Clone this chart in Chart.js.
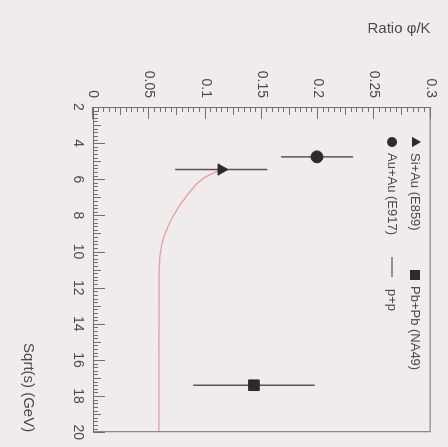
<!DOCTYPE html>
<html>
<head>
<meta charset="utf-8">
<script src="https://cdn.jsdelivr.net/npm/chart.js@4.4.0/dist/chart.umd.min.js"></script>
<style>
  html, body { margin: 0; padding: 0; background: #f0ecec; overflow: hidden; width: 448px; height: 447px; }
  /* the reference is the chart turned a quarter turn clockwise */
  #wrap { position: absolute; left: 0; top: 0; width: 447px; height: 448px;
          transform-origin: 0 0; transform: translateX(448px) rotate(90deg); }
</style>
</head>
<body>
<div id="wrap"><canvas id="ratioChart" width="447" height="448"></canvas></div>
<script>
// Data
const sqrtS_E859 = [5.46];
const ratio_E859 = [0.114];
const err_E859 = [0.041];

const sqrtS_NA49 = [17.4];
const ratio_NA49 = [0.143];
const err_NA49 = [0.054];

const sqrtS_E917 = [4.76];
const ratio_E917 = [0.199];
const err_E917 = [0.032];

const sqrtS_pp = [5.51, 5.95, 6.86, 7.95, 9.19, 10.27, 12.05, 16, 20];
const ratio_pp = [0.112, 0.098, 0.084, 0.072, 0.063, 0.0595, 0.0587, 0.0586, 0.0586];

const sqrtSTicks = [2, 4, 6, 8, 10, 12, 14, 16, 18, 20];
const ratioTicks = [0, 0.05, 0.1, 0.15, 0.2, 0.25, 0.3];

const FONT = '"Liberation Sans", Arial, sans-serif';
const TEXT = '#4a4a4a';
const MARK = '#2b2b2b';
const CURVE = 'rgba(232,120,145,0.75)';

function pts(xs, ys) {
  return xs.map((x, i) => ({ x: x, y: ys[i] }));
}

// vertical error bars, inward ticks, frame and the legend
const rootStyle = {
  id: 'rootStyle',
  beforeDatasetsDraw(chart) {
    const ctx = chart.ctx, xs = chart.scales.x, ys = chart.scales.y;
    ctx.save();
    ctx.strokeStyle = '#555';
    ctx.lineWidth = 1.5;
    chart.data.datasets.forEach(ds => {
      if (!ds.errors) return;
      ds.data.forEach((p, i) => {
        const px = xs.getPixelForValue(p.x);
        ctx.beginPath();
        ctx.moveTo(px, ys.getPixelForValue(p.y - ds.errors[i]));
        ctx.lineTo(px, ys.getPixelForValue(p.y + ds.errors[i]));
        ctx.stroke();
      });
    });
    ctx.restore();
  },
  afterDraw(chart) {
    const ctx = chart.ctx, a = chart.chartArea;
    const xs = chart.scales.x, ys = chart.scales.y;
    ctx.save();
    ctx.strokeStyle = '#707070';
    ctx.lineWidth = 1;
    ctx.strokeRect(a.left + 0.5, a.top + 0.5, a.right - a.left - 1, a.bottom - a.top - 1);

    // x ticks (inward from bottom)
    for (let k = 0; k <= 90; k++) {
      const v = 2 + k * 0.2;
      const px = Math.round(xs.getPixelForValue(v)) + 0.5;
      const len = k % 10 === 0 ? 12 : (k % 5 === 0 ? 8 : 5);
      ctx.beginPath();
      ctx.moveTo(px, a.bottom);
      ctx.lineTo(px, a.bottom - len);
      ctx.stroke();
    }
    // y ticks (inward from left)
    for (let k = 0; k <= 60; k++) {
      const v = k * 0.005;
      const py = Math.round(ys.getPixelForValue(v)) + 0.5;
      const len = k % 10 === 0 ? 12 : (k % 5 === 0 ? 8 : 5);
      ctx.beginPath();
      ctx.moveTo(a.left, py);
      ctx.lineTo(a.left + len, py);
      ctx.stroke();
    }

    // legend, two rows of two
    const spots = [[142, 33], [275, 33], [142, 56], [267, 56]];
    ctx.font = '13px ' + FONT;
    ctx.textBaseline = 'middle';
    ctx.textAlign = 'left';
    chart.data.datasets.forEach((ds, i) => {
      const [lx, ly] = spots[i];
      ctx.fillStyle = MARK;
      ctx.strokeStyle = MARK;
      if (ds.pointStyle === 'triangle') {
        ctx.beginPath();
        ctx.moveTo(lx, ly - 6);
        ctx.lineTo(lx + 5.2, ly + 3);
        ctx.lineTo(lx - 5.2, ly + 3);
        ctx.closePath();
        ctx.fill();
      } else if (ds.pointStyle === 'rect') {
        ctx.fillRect(lx - 5, ly - 5, 10, 10);
      } else if (ds.pointStyle === 'circle') {
        ctx.beginPath();
        ctx.arc(lx, ly, 5, 0, Math.PI * 2);
        ctx.fill();
      } else {
        ctx.strokeStyle = '#555';
        ctx.lineWidth = 1.2;
        ctx.beginPath();
        ctx.moveTo(lx - 10, ly);
        ctx.lineTo(lx + 10, ly);
        ctx.stroke();
      }
      ctx.fillStyle = TEXT;
      ctx.fillText(ds.label, lx + (ds.showLine ? 22 : 11), ly);
    });
    ctx.restore();
  }
};

new Chart(document.getElementById('ratioChart'), {
  type: 'scatter',
  data: {
    datasets: [{
      label: 'Si+Au (E859)',
      data: pts(sqrtS_E859, ratio_E859),
      errors: err_E859,
      pointStyle: 'triangle',
      pointRadius: 6.5,
      backgroundColor: MARK,
      borderColor: MARK
    }, {
      label: 'Pb+Pb (NA49)',
      data: pts(sqrtS_NA49, ratio_NA49),
      errors: err_NA49,
      pointStyle: 'rect',
      pointRadius: 7.5,
      backgroundColor: MARK,
      borderColor: MARK
    }, {
      label: 'Au+Au (E917)',
      data: pts(sqrtS_E917, ratio_E917),
      errors: err_E917,
      pointStyle: 'circle',
      pointRadius: 6,
      backgroundColor: MARK,
      borderColor: MARK
    }, {
      label: 'p+p',
      data: pts(sqrtS_pp, ratio_pp),
      showLine: true,
      pointRadius: 0,
      borderColor: CURVE,
      borderWidth: 1.3,
      cubicInterpolationMode: 'monotone',
      order: 5
    }]
  },
  options: {
    responsive: false,
    animation: false,
    devicePixelRatio: 1,
    layout: { padding: { top: 15, right: 7, left: 0, bottom: 0 } },
    plugins: { legend: { display: false }, tooltip: { enabled: false } },
    scales: {
      x: {
        type: 'linear',
        min: 2,
        max: 20,
        afterBuildTicks: s => { s.ticks = sqrtSTicks.map(v => ({ value: v })); },
        afterFit: s => { s.height = 93; },
        grid: { display: false, drawTicks: false },
        border: { display: false },
        ticks: { padding: 7, color: TEXT, autoSkip: false, maxRotation: 0, font: { size: 14, family: FONT } },
        title: { display: true, text: 'Sqrt(s) (GeV)', align: 'end', color: TEXT,
                 padding: { top: 0, bottom: 19 }, font: { size: 15, family: FONT } }
      },
      y: {
        type: 'linear',
        min: 0,
        max: 0.3,
        afterBuildTicks: s => { s.ticks = ratioTicks.map(v => ({ value: v })); },
        afterFit: s => { s.width = 107; },
        grid: { display: false, drawTicks: false },
        border: { display: false },
        ticks: {
          padding: 9, color: TEXT, autoSkip: false, font: { size: 14, family: FONT },
          callback: v => String(Math.round(v * 1000) / 1000)
        },
        title: { display: true, text: 'Ratio \u03c6/K', align: 'end', color: TEXT,
                 padding: { top: 20, bottom: 0 }, font: { size: 15, family: FONT } }
      }
    }
  },
  plugins: [rootStyle]
});
</script>
</body>
</html>
